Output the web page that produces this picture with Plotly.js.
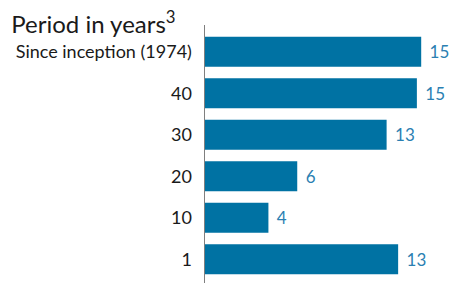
<!DOCTYPE html>
<html>
<head>
<meta charset="utf-8">
<script src="https://cdn.plot.ly/plotly-3.0.1.min.js"></script>
<style>html,body{margin:0;padding:0;background:#fff;}#chart{width:451px;height:283px;}</style>
</head>
<body>
<div id="chart"></div>
<script>
// Categories listed bottom to top
const periods = ["1", "10", "20", "30", "40", "Since inception (1974)"];
const returns = [13.4, 4.4, 6.4, 12.6, 14.7, 15.0];
const valueLabels = ["13", "4", "6", "13", "15", "15"];

const FONT = "Lato, 'Noto Sans', sans-serif";

Plotly.newPlot("chart", [{
  type: "bar",
  orientation: "h",
  y: periods,
  x: returns,
  text: valueLabels,
  texttemplate: "\u00a0\u200a%{text}",
  textposition: "outside",
  cliponaxis: false,
  textfont: {family: FONT, size: 17, color: "#2b7fb2"},
  marker: {color: "#0072a3"},
  hoverinfo: "none"
}], {
  width: 451, height: 283,
  margin: {l: 205, r: 20, t: 25, b: 0},
  paper_bgcolor: "#fff", plot_bgcolor: "#fff",
  bargap: 0.28,
  showlegend: false,
  title: {text: "Period in years<sup>3</sup>", x: 0.025, xanchor: "left", y: 0.942, yanchor: "top",
          font: {family: FONT, size: 24, color: "#1a1a1a"}},
  xaxis: {range: [0, 15.68], visible: false, fixedrange: true},
  yaxis: {type: "category", range: [-0.573, 5.643], showline: true, linecolor: "#7f7f7f", linewidth: 1.5,
          showgrid: false, zeroline: false, ticks: "", ticklabelstandoff: 8,
          tickfont: {family: FONT, size: 18, color: "#1a1a1a"}, fixedrange: true}
}, {displayModeBar: false, staticPlot: true});
</script>
</body>
</html>
